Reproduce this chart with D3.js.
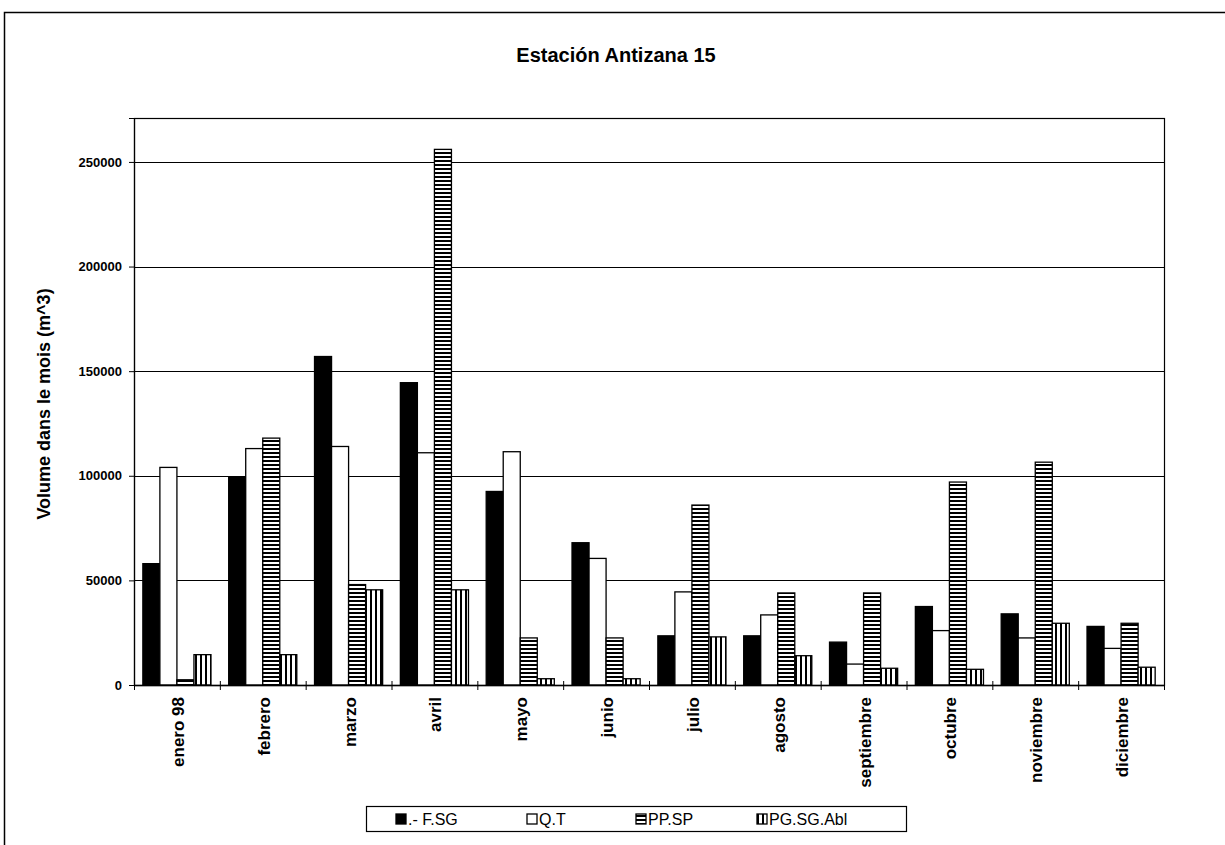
<!DOCTYPE html>
<html>
<head>
<meta charset="utf-8">
<script src="https://cdn.jsdelivr.net/npm/d3@7"></script>
<style>
  html, body { margin: 0; padding: 0; background: #fff; }
  svg { display: block; }
  text { font-family: Arial, "Liberation Sans", sans-serif; fill: #000; }
</style>
</head>
<body>
<svg id="chart" width="1225" height="845"></svg>
<script>
// Monthly volumes at Antizana 15 station, 1998
const months = ["enero 98", "febrero", "marzo", "avril", "mayo", "junio",
                "julio", "agosto", "septiembre", "octubre", "noviembre", "diciembre"];
const seriesNames = [".- F.SG", "Q.T", "PP.SP", "PG.SG.Abl"];
const fsg     = [58000, 99500, 157000, 144500, 92500, 68000, 23500, 23500, 20500, 37500, 34000, 28000];
const qt      = [104000, 113000, 114000, 111000, 111500, 60500, 44500, 33500, 10000, 26000, 22500, 17500];
const ppsp    = [2500, 118000, 48000, 256000, 22500, 22500, 86000, 44000, 44000, 97000, 106500, 29500];
const pgsgabl = [14500, 14500, 45500, 45500, 3000, 3000, 23000, 14000, 8000, 7500, 29500, 8500];
const yTicks  = [0, 50000, 100000, 150000, 200000, 250000];

const seriesValues = [fsg, qt, ppsp, pgsgabl];
const fills = ["#000", "#fff", "url(#hstripe)", "url(#vstripe)"];

const svg = d3.select("#chart");

// hatch patterns
const defs = svg.append("defs");
const hp = defs.append("pattern").attr("id", "hstripe")
  .attr("patternUnits", "userSpaceOnUse").attr("width", 6).attr("height", 4);
hp.append("rect").attr("width", 6).attr("height", 4).attr("fill", "#fff");
hp.append("rect").attr("width", 6).attr("height", 2).attr("fill", "#000");
const vp = defs.append("pattern").attr("id", "vstripe")
  .attr("patternUnits", "userSpaceOnUse").attr("width", 5).attr("height", 6);
vp.append("rect").attr("width", 5).attr("height", 6).attr("fill", "#fff");
vp.append("rect").attr("width", 2).attr("height", 6).attr("fill", "#000");

// outer frame
svg.append("rect").attr("x", 4.5).attr("y", 12.5).attr("width", 1240).attr("height", 850)
  .attr("fill", "none").attr("stroke", "#000").attr("stroke-width", 1.5);

// title
svg.append("text").attr("x", 616).attr("y", 62).attr("text-anchor", "middle")
  .attr("font-size", 20).attr("font-weight", "bold").text("Estación Antizana 15");

const plot = { left: 134, right: 1164, top: 118, bottom: 685 };

const x = d3.scaleBand().domain(months).range([plot.left, plot.right]).padding(0);
const x1 = d3.scaleBand().domain(seriesNames).range([0, x.bandwidth()])
  .paddingInner(0).paddingOuter(0.52);
const y = d3.scaleLinear().domain([0, 271000]).range([plot.bottom, plot.top]);

// gridlines
svg.append("g").selectAll("line").data(yTicks.filter(d => d > 0)).join("line")
  .attr("x1", plot.left).attr("x2", plot.right)
  .attr("y1", d => Math.round(y(d)) + 0.5).attr("y2", d => Math.round(y(d)) + 0.5)
  .attr("stroke", "#000").attr("stroke-width", 1);

// plot border
svg.append("rect").attr("x", plot.left + 0.5).attr("y", plot.top + 0.5)
  .attr("width", plot.right - plot.left).attr("height", plot.bottom - plot.top)
  .attr("fill", "none").attr("stroke", "#000").attr("stroke-width", 1.2);

// bars
const groups = svg.append("g").selectAll("g").data(seriesNames).join("g")
  .attr("fill", (d, i) => fills[i]);
groups.selectAll("rect").data((s, i) => months.map((m, j) => ({ m, s, v: seriesValues[i][j] })))
  .join("rect")
  .attr("x", d => x(d.m) + x1(d.s))
  .attr("width", x1.bandwidth())
  .attr("y", d => y(d.v))
  .attr("height", d => y(0) - y(d.v))
  .attr("stroke", "#000").attr("stroke-width", 1.3);

// y axis
const yAxis = svg.append("g").attr("transform", `translate(${plot.left},0)`)
  .call(d3.axisLeft(y).tickValues(yTicks).tickSize(5).tickPadding(7).tickFormat(d3.format("d")));
yAxis.select(".domain").attr("stroke", "#000").attr("stroke-width", 1.2);
yAxis.selectAll("text").attr("font-size", 13).attr("font-weight", "bold")
  .attr("font-family", "Arial, 'Liberation Sans', sans-serif").attr("fill", "#000");

// x axis: baseline, crossing ticks at category boundaries, rotated labels
svg.append("line").attr("x1", plot.left).attr("x2", plot.right)
  .attr("y1", plot.bottom + 0.5).attr("y2", plot.bottom + 0.5)
  .attr("stroke", "#000").attr("stroke-width", 1.5);
const bounds = months.map(m => x(m)).concat([x.range()[1]]);
svg.append("g").selectAll("line").data(bounds).join("line")
  .attr("x1", d => d + 0.5).attr("x2", d => d + 0.5)
  .attr("y1", plot.bottom - 4).attr("y2", plot.bottom + 5)
  .attr("stroke", "#000");
svg.append("g").selectAll("text").data(months).join("text")
  .attr("transform", d => `translate(${x(d) + x.bandwidth() / 2 + 1},697) rotate(-90)`)
  .attr("text-anchor", "end").attr("dy", "0.35em")
  .attr("font-size", 17).attr("font-weight", "bold")
  .text(d => d);

// y axis title
svg.append("text").attr("transform", "translate(44,404) rotate(-90)")
  .attr("text-anchor", "middle").attr("dy", "0.35em")
  .attr("font-size", 18).attr("font-weight", "bold")
  .text("Volume dans le mois (m^3)");

// legend
const legend = svg.append("g");
legend.append("rect").attr("x", 366.5).attr("y", 806.5).attr("width", 540).attr("height", 25)
  .attr("fill", "#fff").attr("stroke", "#000").attr("stroke-width", 1.2);
const legendX = [396, 527, 636, 757];
const items = legend.selectAll("g").data(seriesNames).join("g")
  .attr("transform", (d, i) => `translate(${legendX[i]},819)`);
items.append("rect").attr("x", 0).attr("y", -5).attr("width", 10).attr("height", 10)
  .attr("fill", (d, i) => fills[i]).attr("stroke", "#000").attr("stroke-width", 1.3);
items.append("text").attr("x", 12).attr("dy", "0.36em").attr("font-size", 16)
  .text(d => d);
</script>
</body>
</html>
